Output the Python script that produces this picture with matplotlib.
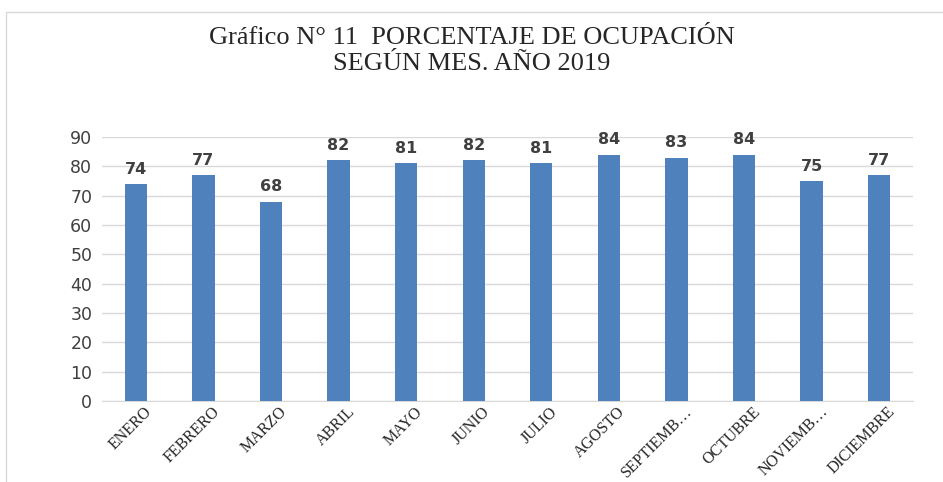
import numpy as np
import matplotlib.pyplot as plt
from matplotlib.patches import Rectangle

# datos del grafico
meses = ["ENERO", "FEBRERO", "MARZO", "ABRIL", "MAYO", "JUNIO", "JULIO",
         "AGOSTO", "SEPTIEMB…", "OCTUBRE", "NOVIEMB…", "DICIEMBRE"]
ocupacion = [74, 77, 68, 82, 81, 82, 81, 84, 83, 84, 75, 77]
etiquetas = ["74", "77", "68", "82", "81", "82", "81", "84", "83", "84", "75", "77"]

fig = plt.figure(figsize=(9.43, 4.82), dpi=100)
ax = fig.add_axes([102 / 943, 1 - 401 / 482, (913 - 102) / 943, (401 - 137) / 482])

# marco del grafico
fig.patches.append(Rectangle((6 / 943, -0.1), 1.2, 1 - 12 / 482 + 0.1,
                             transform=fig.transFigure, fill=False,
                             edgecolor="#D9D9D9", linewidth=1))

x = np.arange(len(meses))
ax.bar(x, ocupacion, width=0.33, color="#4F81BD", zorder=3)
for xi, v, t in zip(x, ocupacion, etiquetas):
    ax.text(xi, v + 2.5, t, ha="center", va="bottom", fontsize=11.5,
            fontweight="bold", color="#404040", family="DejaVu Sans")

ax.set_xlim(-0.5, len(meses) - 0.5)
ax.set_ylim(0, 90)
ax.set_yticks(range(0, 91, 10))
ax.yaxis.grid(True, color="#D9D9D9", linewidth=1, zorder=0)
ax.tick_params(axis="y", length=0, labelsize=12.5, labelcolor="#404040", pad=7)
ax.tick_params(axis="x", length=0, pad=2)
for s in ["top", "right", "left"]:
    ax.spines[s].set_visible(False)
ax.spines["bottom"].set_color("#D9D9D9")
ax.set_xticks(x + 0.12)
ax.set_xticklabels(meses, rotation=45, ha="right", rotation_mode="anchor",
                   fontsize=11.5, family="Liberation Serif", color="#262626")

fig.text(0.5, 1 - 38 / 482, "Gráfico N° 11  PORCENTAJE DE OCUPACIÓN",
         ha="center", va="center", fontsize=19, family="Liberation Serif", color="#262626")
fig.text(0.5, 1 - 64 / 482, "SEGÚN MES. AÑO 2019",
         ha="center", va="center", fontsize=19, family="Liberation Serif", color="#262626")

fig.savefig("out.png", dpi=100)
